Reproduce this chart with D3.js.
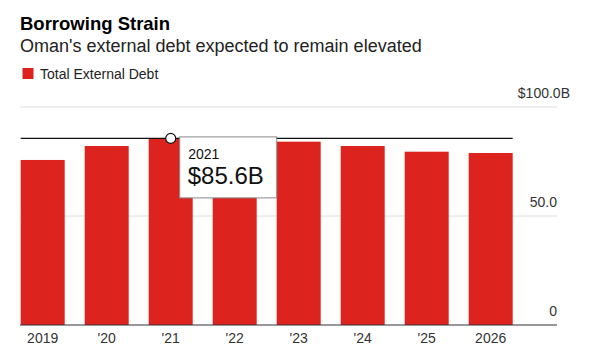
<!DOCTYPE html>
<html>
<head>
<meta charset="utf-8">
<script src="https://cdn.jsdelivr.net/npm/d3@7"></script>
<style>
  body { margin: 0; background: #fff; font-family: "Liberation Sans", Arial, sans-serif; }
  svg text { font-family: "Liberation Sans", Arial, sans-serif; }
</style>
</head>
<body>
<div id="chart"></div>
<script>
const years = ['2019', '2020', '2021', '2022', '2023', '2024', '2025', '2026']
const yearLabels = ['2019', "'20", "'21", "'22", "'23", "'24", "'25", '2026']
const debt = [75.7, 82.1, 85.6, 83.0, 84.1, 82.1, 79.5, 78.9]
const yTicks = [0, 50, 100]
const hoverIndex = 2

const W = 600, H = 363
const RED = '#dc231e'

const svg = d3.select('#chart').append('svg')
  .attr('width', W).attr('height', H)
  .style('display', 'block')

// Title block
svg.append('text').attr('x', 20).attr('y', 30)
  .attr('font-size', 18.5).attr('font-weight', 'bold').attr('fill', '#000')
  .text('Borrowing Strain')
svg.append('text').attr('x', 20).attr('y', 52)
  .attr('font-size', 18).attr('fill', '#222')
  .text("Oman's external debt expected to remain elevated")

// Legend
svg.append('rect').attr('x', 22.5).attr('y', 68).attr('width', 11).attr('height', 11).attr('fill', RED)
svg.append('text').attr('x', 40).attr('y', 79)
  .attr('font-size', 14).attr('fill', '#222')
  .text('Total External Debt')

const x = d3.scaleBand().domain(years).range([20.7, 512.7]).paddingInner(0.3125).paddingOuter(0)
const y = d3.scaleLinear().domain([0, 100]).range([325, 107])

// Grid lines
svg.append('g').selectAll('line').data(yTicks.filter(t => t > 0)).join('line')
  .attr('x1', 20).attr('x2', 557)
  .attr('y1', d => y(d)).attr('y2', d => y(d))
  .attr('stroke', '#dcdcdc').attr('stroke-width', 1)

// Bars
svg.append('g').selectAll('rect').data(debt).join('rect')
  .attr('x', (d, i) => x(years[i]))
  .attr('y', d => y(d))
  .attr('width', x.bandwidth())
  .attr('height', d => y(0) - y(d))
  .attr('fill', RED)

// Baseline
svg.append('line').attr('x1', 20).attr('x2', 557)
  .attr('y1', y(0)).attr('y2', y(0))
  .attr('stroke', '#333').attr('stroke-width', 1.2)

// Right axis labels
const yAxis = svg.append('g').attr('transform', 'translate(557,0)')
  .call(d3.axisRight(y).tickValues(yTicks).tickSize(0)
    .tickFormat(d => d === 100 ? '$100.0B' : d === 0 ? '0' : d3.format('.1f')(d)))
yAxis.select('.domain').remove()
yAxis.selectAll('text')
  .attr('text-anchor', 'end')
  .attr('x', d => d === 100 ? 13 : 0)
  .attr('dy', -10)
  .attr('font-size', 14).attr('fill', '#333')
  .attr('font-family', '"Liberation Sans", Arial, sans-serif')

// Bottom axis labels
const xAxis = svg.append('g').attr('transform', `translate(0,${y(0)})`)
  .call(d3.axisBottom(x).tickSize(0).tickFormat((d, i) => yearLabels[i]))
xAxis.select('.domain').remove()
xAxis.selectAll('text')
  .attr('dy', 15)
  .attr('font-size', 14).attr('fill', '#333')
  .attr('font-family', '"Liberation Sans", Arial, sans-serif')

// Hover line, marker and tooltip
const hv = debt[hoverIndex]
svg.append('line')
  .attr('x1', x.range()[0]).attr('x2', x.range()[1])
  .attr('y1', y(hv)).attr('y2', y(hv))
  .attr('stroke', '#111').attr('stroke-width', 1.2)
const cx = x(years[hoverIndex]) + x.bandwidth() / 2
svg.append('circle').attr('cx', cx).attr('cy', y(hv)).attr('r', 5)
  .attr('fill', '#fff').attr('stroke', '#111').attr('stroke-width', 1.2)

const tip = svg.append('g').attr('transform', `translate(${cx + 9},${y(hv) - 1.5})`)
tip.append('rect').attr('width', 97).attr('height', 61)
  .attr('fill', '#fff').attr('stroke', '#888').attr('stroke-width', 1)
tip.append('text').attr('x', 8.5).attr('y', 22)
  .attr('font-size', 14).attr('fill', '#111')
  .text(years[hoverIndex])
tip.append('text').attr('x', 8).attr('y', 47.5)
  .attr('font-size', 24).attr('fill', '#111')
  .text(`$${hv.toFixed(1)}B`)
</script>
</body>
</html>
